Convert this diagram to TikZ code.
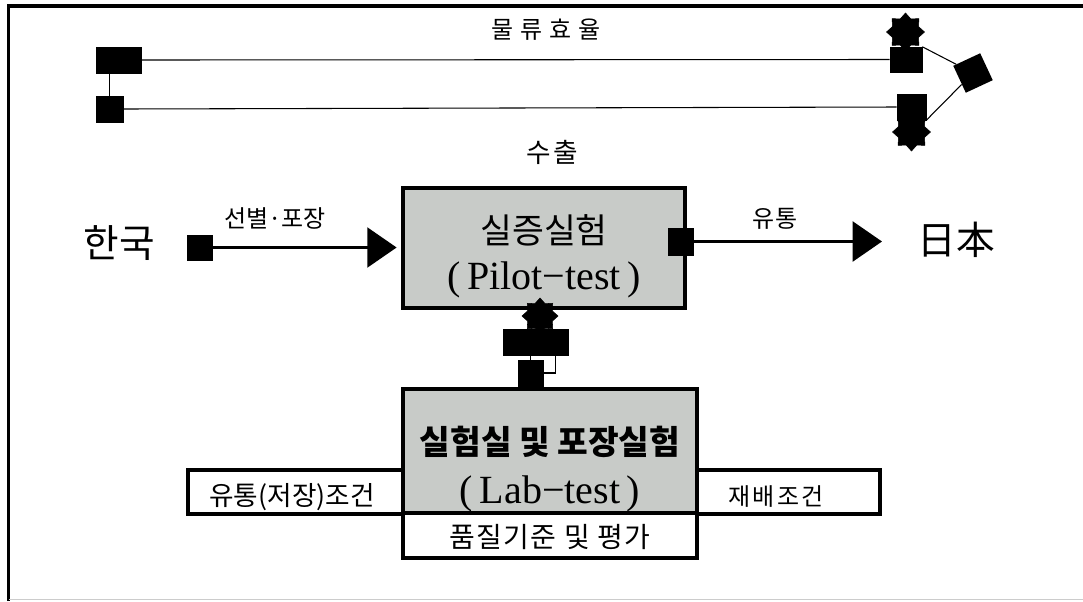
\documentclass[tikz,border=0pt]{standalone}
\usepackage{fontspec}
\setmainfont{Liberation Serif}
\newfontfamily\kr{Noto Sans CJK KR}
\usetikzlibrary{arrows.meta,shapes.geometric}
\definecolor{boxgray}{RGB}{200,203,200}
\newcommand{\fs}[1]{\fontsize{#1}{#1}\selectfont}
\begin{document}
\begin{tikzpicture}[x=0.75pt,y=-0.75pt,
  sz/.style 2 args={minimum width=#1*0.75pt,minimum height=#2*0.75pt},
  blk/.style={draw=black,fill=black,rectangle,inner sep=0pt,line width=0.4pt},
  gbox/.style={draw=black,fill=boxgray,rectangle,line width=2.6pt,inner sep=0pt},
  wbox/.style={draw=black,fill=white,rectangle,line width=2.6pt,inner sep=0pt},
  blob/.style={star,star points=8,star point ratio=1.35,fill=black,draw=black,inner sep=0pt,minimum size=38*0.75pt},
  txt/.style={inner sep=0pt,anchor=center},
  conn/.style={line width=0.8pt},
  arr/.style={line width=1.7pt,-{Triangle[length=22pt,width=30pt]}}]
\useasboundingbox (0,0) rectangle (1083,601);
% frame
\draw[line width=2.4pt] (8.5,601) -- (8.5,6) -- (1083,6);
\draw[black!20,line width=0.75pt] (8.5,599.5) -- (1083,599.5);

% top logistics efficiency loop
\node[blk,sz={45}{26}] (tl1) at (118.5,60) {};
\node[blk,sz={27}{26}] (tl2) at (109.5,109) {};
\node[blob] (st1) at (905.5,32) {};
\node[blob] (st2) at (911.5,132) {};
\node[blk,sz={32}{25}] (tr1) at (906,59.5) {};
\node[blk,sz={29}{26}] (br1) at (911.5,107) {};
\node[regular polygon,regular polygon sides=4,fill=black,inner sep=0pt,minimum size=42*0.75pt,rotate=25] (dia) at (973,73) {};
\draw[conn] (tl1.east) -- (tr1.west);
\draw[conn] (tl2.east) -- (br1.west);
\draw[conn] (tl2.north |- tl1.south) -- (tl2.north);
\draw[conn] (tr1.north east) -- (dia);
\draw[conn] (br1.south east) -- (dia);
\node[txt,font=\kr\fs{18pt}\addfontfeature{LetterSpace=30}] (eff) at (546,30) {물류효율};

% middle row
\node[txt,font=\kr\fs{20pt}\addfontfeature{LetterSpace=10}] (exp) at (552,152) {수출};
\node[gbox,sz={282}{120}] (pilot) at (544,248) {};
\node[txt,font=\kr\fs{26pt}] (p1) at (544,230) {실증실험};
\node[txt,font=\fs{30pt}] (p2) at (544,280) {(\,Pilot−test\,)};

\node[txt,font=\kr\fs{29pt}] (korea) at (119,243) {한국};
\node[blk,sz={25}{25}] (ksq) at (199.5,247.5) {};
\draw[arr,shorten >=3.5pt] (ksq.east) -- (pilot.west |- ksq.east);
\node[txt,font=\kr\fs{18pt}] (sel) at (275,218) {선별·포장};

\node[blk,sz={25}{27}] (jsq) at (680.5,241.5) {};
\coordinate (jend) at (882,241.5);
\draw[arr] (jsq.east) -- (jend);
\node[txt,font=\kr\fs{18pt}] (dist) at (775,219) {유통};
\node[txt,font=\kr\fs{29pt}] (japan) at (956,240) {日本};

% connector between pilot and lab
\node[blob,minimum size=36*0.75pt] (pst) at (540,316) {};
\node[blk,sz={65}{26}] (mrect) at (535.5,342) {};
\node[blk,sz={25}{26}] (msq) at (530.5,373) {};
\draw[conn] (msq.north |- mrect.south) -- (msq.north);
\draw[conn] ([xshift=-13*0.75pt]mrect.south east) |- (msq.east);

% lab section
\node[wbox,sz={215}{44}] (lcond) at (295.5,492) {};
\node[wbox,sz={183}{44}] (rcond) at (788.5,492) {};
\node[wbox,sz={294}{45}] (qual) at (550,535.5) {};
\node[gbox,sz={294}{124}] (lab) at (550,451) {};
\node[txt,font=\kr\bfseries\fs{25pt}] (l1) at (550,442) {실험실 및 포장실험};
\node[txt,font=\fs{30pt}] (l2) at (550,494) {(\,Lab−test\,)};
\node[txt,font=\kr\fs{20pt}] (lct) at (292,497) {유통(저장)조건};
\node[txt,font=\kr\fs{18pt}\addfontfeature{LetterSpace=10}] (rct) at (776,497) {재배조건};
\node[txt,font=\kr\fs{21pt}\addfontfeature{LetterSpace=5}] (qt) at (550,537) {품질기준 및 평가};
\end{tikzpicture}
\end{document}
